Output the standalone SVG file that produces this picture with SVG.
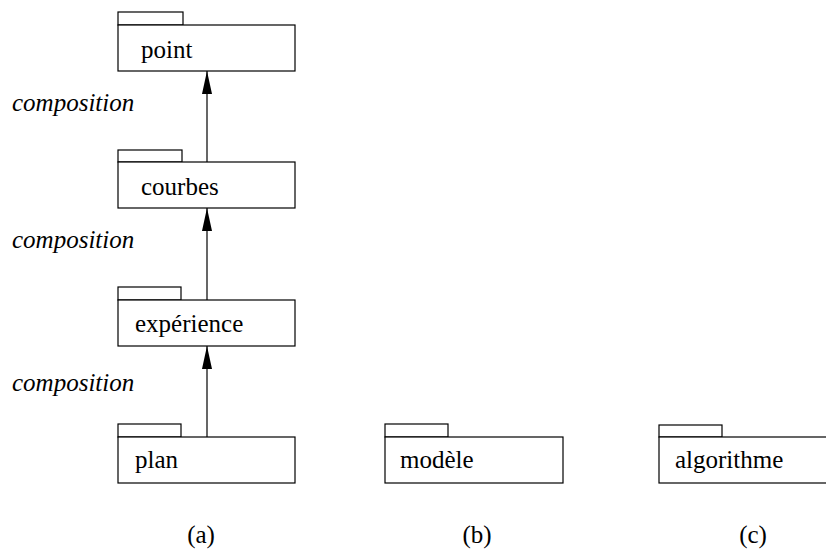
<svg xmlns="http://www.w3.org/2000/svg" width="826" height="549" viewBox="0 0 826 549">
<defs>
<style>
.box{fill:#fff;stroke:#000;stroke-width:1.2}
.lbl{font-family:'Liberation Serif',Tinos,'Times New Roman',Times,'DejaVu Serif',serif;font-size:25px;fill:#000}
.it{font-style:italic}
.edge{stroke:#000;stroke-width:1.2;fill:none}
</style>
<marker id="arr" viewBox="0 0 23 10" refX="23" refY="5" markerWidth="23" markerHeight="10" markerUnits="userSpaceOnUse" orient="auto">
<path d="M0,0 L23,5 L0,10 Z" fill="#000"/>
</marker>
</defs>
<rect width="826" height="549" fill="#fff"/>
<g id="connectors">
<line class="edge" x1="207" y1="162" x2="207" y2="71" marker-end="url(#arr)"/>
<line class="edge" x1="207" y1="300" x2="207" y2="208" marker-end="url(#arr)"/>
<line class="edge" x1="207" y1="437" x2="207" y2="346" marker-end="url(#arr)"/>
</g>
<g id="edge-labels" font-family="Liberation Serif, serif">
<text class="lbl it" x="12" y="111">composition</text>
<text class="lbl it" x="12" y="248">composition</text>
<text class="lbl it" x="12" y="391">composition</text>
</g>
<g id="point">
<rect class="box" x="118" y="12" width="65" height="13"/>
<rect class="box" x="118" y="25" width="177" height="46"/>
<text class="lbl" x="141" y="58">point</text>
</g>
<g id="courbes">
<rect class="box" x="118" y="150" width="64" height="12"/>
<rect class="box" x="118" y="162" width="177" height="46"/>
<text class="lbl" x="141" y="195">courbes</text>
</g>
<g id="experience">
<rect class="box" x="118" y="287" width="63" height="13"/>
<rect class="box" x="118" y="300" width="177" height="46"/>
<text class="lbl" x="135" y="332">expérience</text>
</g>
<g id="plan">
<rect class="box" x="118" y="424" width="63" height="13"/>
<rect class="box" x="118" y="437" width="177" height="46"/>
<text class="lbl" x="135" y="468">plan</text>
</g>
<g id="modele">
<rect class="box" x="385" y="424" width="63" height="13"/>
<rect class="box" x="385" y="437" width="178" height="46"/>
<text class="lbl" x="400" y="468">modèle</text>
</g>
<g id="algorithme">
<rect class="box" x="659" y="425" width="63" height="12"/>
<rect class="box" x="659" y="437" width="178" height="46"/>
<text class="lbl" x="675" y="468">algorithme</text>
</g>
<g id="captions">
<text class="lbl" x="201" y="543" text-anchor="middle">(a)</text>
<text class="lbl" x="477" y="543" text-anchor="middle">(b)</text>
<text class="lbl" x="753" y="543" text-anchor="middle">(c)</text>
</g>
</svg>
